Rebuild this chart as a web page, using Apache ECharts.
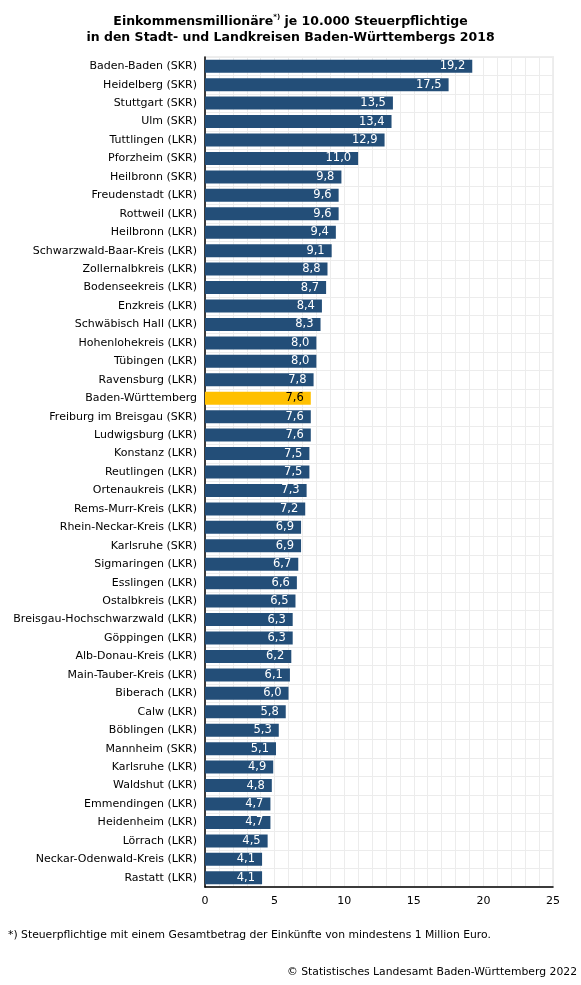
<!DOCTYPE html>
<html><head><meta charset="utf-8">
<script src="https://cdn.jsdelivr.net/npm/echarts@6/dist/echarts.min.js"></script>
<style>html,body{margin:0;padding:0;background:#fff}#c{width:581px;height:985px}</style>
</head><body><div id="c"></div>
<script>
var categories = ["Baden-Baden (SKR)","Heidelberg (SKR)","Stuttgart (SKR)","Ulm (SKR)","Tuttlingen (LKR)","Pforzheim (SKR)","Heilbronn (SKR)","Freudenstadt (LKR)","Rottweil (LKR)","Heilbronn (LKR)","Schwarzwald-Baar-Kreis (LKR)","Zollernalbkreis (LKR)","Bodenseekreis (LKR)","Enzkreis (LKR)","Schwäbisch Hall (LKR)","Hohenlohekreis (LKR)","Tübingen (LKR)","Ravensburg (LKR)","Baden-Württemberg","Freiburg im Breisgau (SKR)","Ludwigsburg (LKR)","Konstanz (LKR)","Reutlingen (LKR)","Ortenaukreis (LKR)","Rems-Murr-Kreis (LKR)","Rhein-Neckar-Kreis (LKR)","Karlsruhe (SKR)","Sigmaringen (LKR)","Esslingen (LKR)","Ostalbkreis (LKR)","Breisgau-Hochschwarzwald (LKR)","Göppingen (LKR)","Alb-Donau-Kreis (LKR)","Main-Tauber-Kreis (LKR)","Biberach (LKR)","Calw (LKR)","Böblingen (LKR)","Mannheim (SKR)","Karlsruhe (LKR)","Waldshut (LKR)","Emmendingen (LKR)","Heidenheim (LKR)","Lörrach (LKR)","Neckar-Odenwald-Kreis (LKR)","Rastatt (LKR)"];
var values = [19.2,17.5,13.5,13.4,12.9,11.0,9.8,9.6,9.6,9.4,9.1,8.8,8.7,8.4,8.3,8.0,8.0,7.8,7.6,7.6,7.6,7.5,7.5,7.3,7.2,6.9,6.9,6.7,6.6,6.5,6.3,6.3,6.2,6.1,6.0,5.8,5.3,5.1,4.9,4.8,4.7,4.7,4.5,4.1,4.1];
var highlight = "Baden-Württemberg";
var xTicks = [0,5,10,15,20,25];

var font = "DejaVu Sans";
var data = values.map(function(v,i){
  var hl = categories[i] === highlight;
  return {value:v, itemStyle:{color: hl ? '#ffc000' : '#234e78'}, label:{color: hl ? '#000' : '#fff'}};
});
var chart = echarts.init(document.getElementById('c'));
chart.setOption({
  animation:false,
  title:{
    text:'{b|Einkommensmillionäre}{s|*)}{b| je 10.000 Steuerpflichtige}\n{b|in den Stadt- und Landkreisen Baden-Württembergs 2018}',
    left:'center', top:9,
    textStyle:{rich:{
      b:{fontFamily:font,fontWeight:'bold',fontSize:12.5,color:'#000',lineHeight:16},
      s:{fontFamily:font,fontWeight:'bold',fontSize:7,color:'#000',verticalAlign:'top',lineHeight:16,padding:[0,0,6,0]}
    }}
  },
  grid:{left:205,right:28,top:57,bottom:98,show:true,borderColor:'#eeeeee',borderWidth:2,backgroundColor:'#fff'},
  xAxis:{type:'value',min:0,max:25,interval:5,
    axisLine:{show:true,lineStyle:{color:'#000',width:1.5}},
    axisTick:{show:false},
    axisLabel:{fontFamily:font,fontSize:11,color:'#000',margin:9,
      formatter:function(v){return xTicks.indexOf(v)>=0?String(v):'';}},
    splitLine:{show:true,lineStyle:{color:'#ececec',width:1}},
    minorTick:{show:false,splitNumber:5},
    minorSplitLine:{show:true,lineStyle:{color:'#ececec',width:1}}
  },
  yAxis:{type:'category',data:categories,inverse:true,
    axisLine:{show:true,lineStyle:{color:'#000',width:1.5}},
    axisTick:{show:false},
    axisLabel:{fontFamily:font,fontSize:11,color:'#000',margin:8},
    splitLine:{show:true,lineStyle:{color:'#ececec',width:1}}
  },
  series:[{type:'bar',data:data,barWidth:13,
    label:{show:true,position:'insideRight',distance:7,fontFamily:font,fontSize:11.5,
      formatter:function(p){return p.value.toFixed(1).replace('.',',');}}
  }],
  graphic:[
    {type:'text',left:8,top:930,style:{text:'*) Steuerpflichtige mit einem Gesamtbetrag der Einkünfte von mindestens 1 Million Euro.',font:'10.8px "DejaVu Sans"',fill:'#000'}},
    {type:'text',right:4,top:967,style:{text:'© Statistisches Landesamt Baden-Württemberg 2022',font:'10.8px "DejaVu Sans"',fill:'#000'}}
  ]
});
</script></body></html>
